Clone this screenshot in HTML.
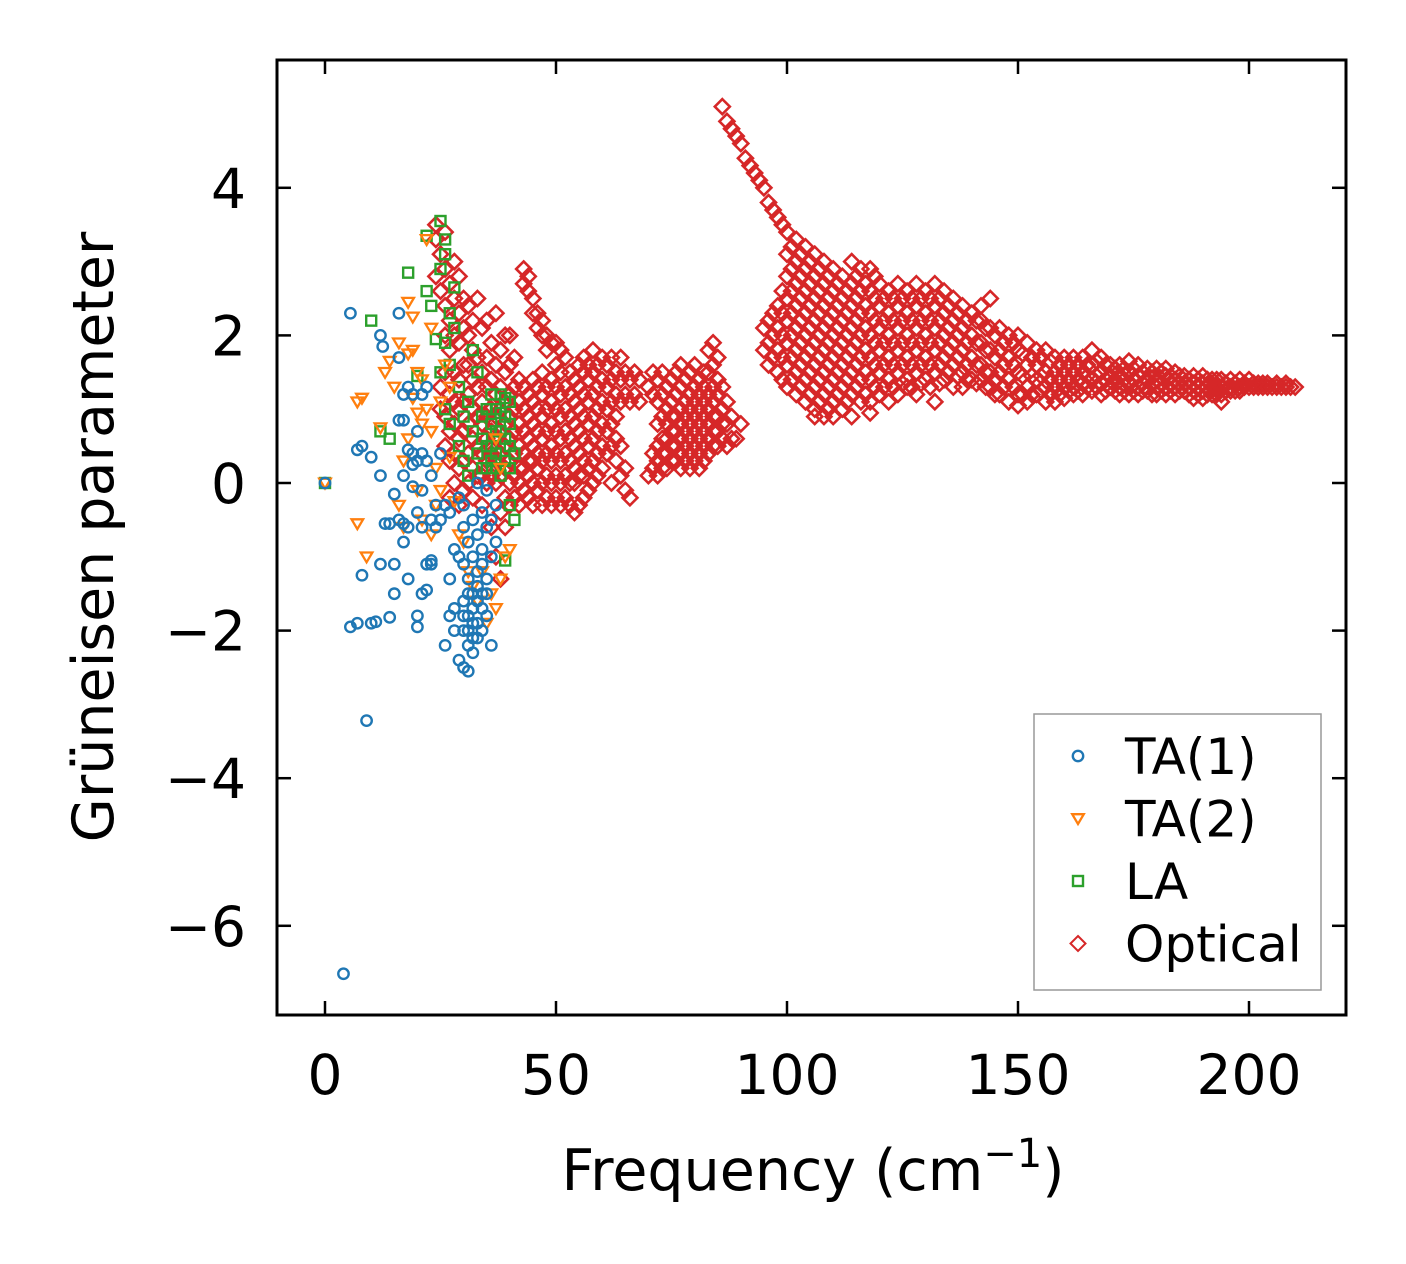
<!DOCTYPE html>
<html><head><meta charset="utf-8"><style>
html,body{margin:0;padding:0;background:#fff;}
svg{display:block;font-family:"DejaVu Sans","Liberation Sans",sans-serif;}
</style></head><body>
<svg id="chart" width="1406" height="1264" viewBox="0 0 1406 1264" xmlns="http://www.w3.org/2000/svg">
<rect width="1406" height="1264" fill="#fff"/>
<g id="marks"></g>
<g id="axes"></g>
</svg>
<script>
const xTicks = [0, 50, 100, 150, 200];
const yTicks = [4, 2, 0, -2, -4, -6];
const xTickLabels = ["0", "50", "100", "150", "200"];
const yTickLabels = ["4", "2", "0", "\u22122", "\u22124", "\u22126"];
const seriesNames = ["TA(1)", "TA(2)", "LA", "Optical"];

const ta1 = [[0,0],[4,-6.65],[5.5,2.3],[5.5,-1.95],[7,-1.9],[7,0.45],[8,0.5],[8,-1.25],[9,-3.22],[10,0.35],[10,-1.9],[11,-1.88],[12,2.0],[12,0.1],[12,-1.1],[12.5,1.85],[13,-0.55],[14,-0.55],[14,-1.82],[15,-0.15],[15,-1.5],[15,-1.1],[16,2.3],[16,1.7],[16,-0.5],[17,1.2],[17,0.85],[17,0.1],[17,-0.55],[17,-0.8],[18,1.3],[18,0.45],[18,-0.6],[18,-1.3],[19,1.2],[19,0.25],[19,-0.05],[20,0.7],[20,0.3],[20,-0.4],[20,-1.8],[20,-1.95],[21,1.2],[21,0.4],[21,-0.1],[21,-0.6],[21,-1.5],[22,1.3],[22,0.3],[22,-1.1],[22,-1.45],[23,0.1],[23,-0.5],[23,-1.05],[23,-1.1],[24,-0.3],[24,-0.6],[25,0.4],[25,-0.5],[26,-2.2],[26,-0.3],[27,-0.4],[27,-1.8],[27,-1.3],[28,-1.7],[28,-2.0],[28,-0.9],[29,-1.0],[29,-2.4],[29,-0.2],[30,-2.5],[30,-2.0],[30,-1.6],[30,-1.1],[30,-0.6],[30,-0.3],[31,-2.55],[31,-2.2],[31,-1.8],[31,-1.3],[31,-0.8],[32,-2.3],[32,-1.9],[32,-1.5],[32,-1.0],[32,-0.5],[33,-2.1],[33,-1.6],[33,-1.2],[33,-0.7],[33,0.0],[34,-2.0],[34,-1.5],[34,-0.9],[34,-0.4],[35,-1.8],[35,-1.3],[35,-0.6],[35,-0.1],[36,-2.2],[36,-1.0],[36,-0.5],[37,-0.8],[37,-0.3],[16,0.85],[19,0.4],[31,-2.0],[32,-1.7],[33,-1.4],[34,-1.1],[33,-1.9],[32,-2.1],[34,-1.7],[35,-1.5],[31,-1.5],[30,-1.8]];

const ta2 = [[0,0],[7,-0.55],[7,1.1],[8,1.15],[9,-1.0],[12,0.75],[13,1.5],[14,1.65],[15,1.3],[16,1.9],[16,-0.3],[17,0.3],[17,-0.6],[18,2.45],[18,1.75],[18,0.6],[19,2.25],[19,1.8],[19,1.15],[20,1.5],[20,0.95],[20,-0.1],[21,1.4],[21,0.8],[22,3.3],[22,1.0],[23,0.7],[23,-0.7],[24,0.2],[24,-0.3],[25,1.1],[25,-0.1],[26,1.6],[27,1.3],[27,0.35],[28,-0.25],[29,-0.7],[30,-0.8],[31,-1.2],[32,-1.4],[33,-1.6],[34,-1.2],[35,-1.9],[36,-1.5],[37,-1.7],[37,0.6],[38,-1.3],[38,0.2],[39,-1.0],[40,-0.9],[21,-0.5],[23,2.1]];

const la = [[0,0],[10,2.2],[12,0.7],[14,0.6],[18,2.85],[20,1.45],[22,3.35],[22,2.6],[23,2.4],[24,1.95],[25,3.55],[25,2.9],[25,1.5],[26,3.3],[26,3.1],[26,1.9],[26,1.0],[27,2.3],[27,1.6],[27,0.8],[28,2.65],[28,2.1],[29,1.3],[29,0.5],[30,0.9],[30,0.3],[31,1.1],[31,0.1],[32,1.8],[32,0.7],[33,0.4],[33,1.5],[34,0.9],[34,0.2],[35,0.5],[35,1.0],[36,0.8],[36,0.3],[36,1.2],[37,0.4],[37,1.0],[38,0.7],[38,1.2],[39,0.3],[39,0.9],[39,-1.05],[40,0.5],[40,1.1],[40,-0.3],[41,-0.5],[34,0.6],[37,0.7],[35,0.2],[38,0.1],[39,0.6],[40,0.8],[36,0.5],[37,0.2],[38,0.95],[39,1.15],[40,0.2],[41,0.4]];

/* optical: columns of [frequency, [gruneisen values]] */
const optical = [
[24,[2.8,3.3,3.5]],[25,[1.0,1.3,2.6,3.1]],[26,[0.5,0.9,1.5,2.0,2.4,2.9,3.4]],[27,[-0.2,0.3,0.7,1.2,1.8,2.2,2.7]],
[28,[0.0,0.4,0.8,1.1,1.5,2.0,2.5,3.0]],[29,[-0.3,0.2,0.6,1.0,1.4,1.9,2.3,2.8]],[30,[-0.1,0.3,0.7,1.1,1.6,2.1,2.5]],
[31,[0.0,0.4,0.8,1.2,1.6,2.0,2.4]],[32,[-0.2,0.2,0.6,1.0,1.4,1.8,2.2]],[33,[0.1,0.5,0.9,1.3,1.7,2.5]],
[34,[-0.3,0.1,0.4,0.8,1.1,1.5,2.1]],[35,[0.0,0.3,0.6,0.9,1.3,1.7,2.2]],[36,[-0.6,0.1,0.4,0.7,1.0,1.4,1.9]],
[37,[-1.0,0.0,0.3,0.6,0.9,1.2,1.6,2.3]],[38,[-1.3,-0.4,0.1,0.4,0.7,1.0,1.3,1.8]],[39,[-0.6,-0.2,0.2,0.5,0.8,1.1,1.5,2.0]],
[40,[-0.3,0.0,0.3,0.6,0.9,1.2,1.6,2.0]],[41,[-0.2,0.1,0.4,0.7,1.0,1.3,1.7]],[42,[-0.3,0.0,0.2,0.5,0.8,1.1,1.4]],
[43,[-0.1,0.2,0.4,0.7,1.0,1.3,2.9,2.7]],[44,[-0.2,0.1,0.3,0.6,0.9,1.2,2.8,2.6]],[45,[-0.3,0.0,0.3,0.5,0.8,1.1,1.4,2.5,2.3]],
[46,[-0.1,0.2,0.4,0.7,1.0,1.3,2.3,2.1]],[47,[-0.3,0.0,0.3,0.6,0.9,1.2,1.5,2.2,2.0]],[48,[-0.2,0.1,0.4,0.7,1.0,1.3,2.0,1.8]],
[49,[-0.3,0.0,0.3,0.5,0.8,1.1,1.4,1.9]],[50,[-0.2,0.1,0.4,0.7,1.0,1.3,1.6,1.9]],[51,[-0.3,0.0,0.3,0.6,0.9,1.2,1.5,1.8]],
[52,[-0.2,0.1,0.4,0.7,1.0,1.3,1.7]],[53,[-0.3,0.0,0.3,0.6,0.9,1.2,1.5]],[54,[-0.4,0.0,0.2,0.5,0.8,1.1,1.4]],
[55,[-0.3,0.1,0.4,0.7,1.0,1.3,1.6]],[56,[-0.2,0.1,0.3,0.6,0.9,1.2,1.5,1.7]],[57,[-0.1,0.2,0.5,0.8,1.1,1.4,1.6]],
[58,[0.0,0.3,0.6,0.9,1.2,1.5,1.8]],[59,[0.1,0.4,0.7,1.0,1.3,1.6]],[60,[0.2,0.5,0.8,1.1,1.4,1.7]],
[61,[0.4,0.7,1.0,1.3,1.6]],[62,[0.0,0.5,0.8,1.1,1.4,1.7]],[63,[0.3,0.6,0.9,1.2,1.5]],[64,[0.1,0.5,1.1,1.4,1.7]],
[65,[-0.1,0.2,1.2,1.5]],[66,[-0.2,1.1,1.4]],[67,[1.2,1.5]],[68,[1.1,1.4]],[70,[0.1,1.3]],[71,[0.2,0.4,1.2,1.5]],
[72,[0.1,0.3,0.5,0.8,1.1,1.4]],[73,[0.2,0.4,0.6,0.9,1.2,1.5]],[74,[0.2,0.4,0.6,0.8,1.0,1.3]],[75,[0.3,0.5,0.7,0.9,1.1,1.4]],
[76,[0.3,0.5,0.7,0.9,1.2,1.5]],[77,[0.2,0.4,0.6,0.8,1.0,1.3,1.6]],[78,[0.3,0.5,0.7,0.9,1.1,1.4]],[79,[0.2,0.4,0.6,0.8,1.0,1.2,1.5]],
[80,[0.3,0.5,0.7,0.9,1.1,1.3,1.6]],[81,[0.2,0.4,0.6,0.8,1.0,1.2,1.4]],[82,[0.3,0.5,0.7,0.9,1.1,1.3,1.5]],
[83,[0.4,0.6,0.8,1.0,1.2,1.5,1.8]],[84,[0.5,0.7,0.9,1.1,1.3,1.6,1.9]],[85,[0.5,0.7,0.9,1.2,1.4,1.7]],
[86,[0.6,0.8,1.0,1.3,5.1]],[87,[0.5,0.8,1.1,4.9]],[88,[0.6,0.9,4.8]],[89,[0.6,4.7]],[90,[0.8,4.6]],[91,[4.4]],[92,[4.3]],
[93,[4.2]],[94,[4.1]],[95,[4.0,2.1,1.8]],[96,[3.8,2.2,1.9,1.6]],[97,[3.7,2.3,2.0,1.7]],[98,[3.6,2.4,2.1,1.8,1.5]],
[99,[3.5,2.6,2.3,2.0,1.7,1.4]],[100,[3.4,3.1,2.8,2.5,2.2,1.9,1.6,1.3]],[101,[3.2,2.9,2.6,2.3,2.0,1.7,1.4]],
[102,[3.3,3.0,2.7,2.4,2.1,1.8,1.5,1.2]],[103,[3.1,2.8,2.5,2.2,1.9,1.6,1.3]],[104,[3.2,2.9,2.6,2.3,2.0,1.7,1.4,1.1]],
[105,[3.0,2.7,2.4,2.1,1.8,1.5,1.2]],[106,[3.1,2.8,2.5,2.2,1.9,1.6,1.3,1.0,0.9]],[107,[2.9,2.6,2.3,2.0,1.7,1.4,1.1]],
[108,[3.0,2.7,2.4,2.1,1.8,1.5,1.2,0.9]],[109,[2.8,2.5,2.2,1.9,1.6,1.3,1.0]],[110,[2.9,2.6,2.3,2.0,1.7,1.4,1.1,0.9]],
[111,[2.7,2.4,2.1,1.8,1.5,1.2]],[112,[2.8,2.5,2.2,1.9,1.6,1.3,1.0]],[113,[2.6,2.3,2.0,1.7,1.4,1.1]],
[114,[3.0,2.7,2.4,2.1,1.8,1.5,1.2,0.9]],[115,[2.8,2.5,2.2,1.9,1.6,1.3]],[116,[2.9,2.6,2.3,2.0,1.7,1.4,1.1]],
[117,[2.7,2.4,2.1,1.8,1.5,1.2]],[118,[2.9,2.6,2.3,2.0,1.7,1.4,1.1,0.95]],[119,[2.8,2.5,2.2,1.9,1.6,1.3]],
[120,[2.7,2.4,2.1,1.8,1.5,1.2]],[121,[2.5,2.2,1.9,1.6,1.3]],[122,[2.6,2.3,2.0,1.7,1.4,1.1]],[123,[2.5,2.2,1.9,1.6,1.3]],
[124,[2.7,2.4,2.1,1.8,1.5,1.2]],[125,[2.5,2.2,1.9,1.6,1.35]],[126,[2.6,2.3,2.0,1.7,1.4,1.3]],[127,[2.5,2.2,1.9,1.6,1.3]],
[128,[2.7,2.4,2.1,1.8,1.5,1.2]],[129,[2.5,2.2,1.9,1.6,1.35]],[130,[2.6,2.3,2.0,1.7,1.4]],[131,[2.5,2.2,1.9,1.6,1.3]],
[132,[2.7,2.4,2.1,1.8,1.5,1.1]],[133,[2.5,2.2,1.9,1.6,1.35]],[134,[2.6,2.3,2.0,1.7,1.4]],[135,[2.4,2.1,1.8,1.5]],
[136,[2.5,2.2,1.9,1.6,1.3]],[137,[2.3,2.0,1.7,1.45]],[138,[2.4,2.1,1.8,1.5,1.3]],[139,[2.2,1.9,1.6,1.4]],
[140,[2.3,2.0,1.7,1.4]],[141,[2.2,1.9,1.6,1.35]],[142,[2.4,2.2,1.9,1.6,1.4]],[143,[2.1,1.8,1.5,1.3]],
[144,[2.5,2.1,1.8,1.5,1.3]],[145,[2.0,1.7,1.4,1.2]],[146,[2.1,1.8,1.5,1.2]],[147,[1.9,1.6,1.3]],[148,[2.0,1.7,1.4,1.1]],
[149,[1.9,1.6,1.3]],[150,[2.0,1.8,1.5,1.2,1.05]],[151,[1.75,1.45,1.2]],[152,[1.9,1.6,1.3,1.1]],[153,[1.7,1.45,1.2]],
[154,[1.8,1.6,1.4,1.2]],[155,[1.7,1.45,1.25]],[156,[1.8,1.5,1.3,1.1]],[157,[1.65,1.4,1.2]],[158,[1.7,1.5,1.3,1.1]],
[159,[1.6,1.4,1.2]],[160,[1.7,1.5,1.3,1.15]],[161,[1.6,1.4,1.25]],[162,[1.7,1.5,1.3,1.2]],[163,[1.6,1.4,1.25]],
[164,[1.7,1.5,1.35,1.2]],[165,[1.6,1.45,1.3]],[166,[1.8,1.6,1.4,1.25]],[167,[1.65,1.45,1.3]],[168,[1.7,1.5,1.35,1.2]],
[169,[1.6,1.4,1.25]],[170,[1.6,1.45,1.3]],[171,[1.55,1.4,1.25]],[172,[1.6,1.45,1.3,1.2]],[173,[1.55,1.4,1.25]],
[174,[1.65,1.5,1.35,1.2]],[175,[1.55,1.4,1.25]],[176,[1.6,1.45,1.3,1.2]],[177,[1.5,1.35,1.25]],[178,[1.55,1.4,1.25]],
[179,[1.5,1.35,1.2]],[180,[1.55,1.4,1.3,1.2]],[181,[1.5,1.35,1.25]],[182,[1.55,1.45,1.3,1.2]],[183,[1.45,1.35,1.25]],
[184,[1.5,1.4,1.3,1.2]],[185,[1.45,1.35,1.25]],[186,[1.45,1.35,1.25]],[187,[1.4,1.3,1.2]],[188,[1.45,1.35,1.25,1.15]],
[189,[1.4,1.3,1.2]],[190,[1.45,1.35,1.25,1.15]],[191,[1.4,1.3,1.2]],[192,[1.4,1.3,1.2]],[193,[1.4,1.3,1.2]],
[194,[1.4,1.3,1.2,1.1]],[195,[1.35,1.25]],[196,[1.4,1.3,1.25]],[197,[1.35,1.25]],[198,[1.4,1.3,1.25]],[199,[1.35,1.3]],
[200,[1.4,1.3]],[201,[1.35,1.3]],[202,[1.35,1.3]],[203,[1.35,1.3]],[204,[1.35,1.3]],[205,[1.3]],[206,[1.35,1.3]],
[207,[1.3]],[208,[1.3,1.35]],[209,[1.3]],[210,[1.3]]
];

const NS = "http://www.w3.org/2000/svg";
const plot = {left: 277, right: 1346, top: 60, bottom: 1015};
const xPx = v => 325 + v * 4.62;
const yPx = v => 483 - v * 73.8;
const marks = document.getElementById('marks');
const axes = document.getElementById('axes');

function mk(tag, attrs, parent) {
  const e = document.createElementNS(NS, tag);
  for (const k in attrs) e.setAttribute(k, attrs[k]);
  parent.appendChild(e);
  return e;
}
function marker(kind, cx, cy, parent, color) {
  let e;
  if (kind === 'circle') e = mk('circle', {cx: cx, cy: cy, r: 5.2, fill: 'none', stroke: color, 'stroke-width': 2.4}, parent);
  else if (kind === 'square') e = mk('rect', {x: cx - 5, y: cy - 5, width: 10, height: 10, fill: 'none', stroke: color, 'stroke-width': 2.4}, parent);
  else if (kind === 'tri') e = mk('polygon', {points: `${cx-5.8},${cy-4.3} ${cx+5.8},${cy-4.3} ${cx},${cy+5.5}`, fill: 'none', stroke: color, 'stroke-width': 2.3}, parent);
  else e = mk('polygon', {points: `${cx},${cy-7.5} ${cx+7.5},${cy} ${cx},${cy+7.5} ${cx-7.5},${cy}`, fill: 'none', stroke: color, 'stroke-width': 2.6}, parent);
  return e;
}

const gOpt = mk('g', {}, marks);


optical.forEach(col => {
  col[1].forEach(v => {
    const e = marker('diamond', xPx(col[0]), yPx(v), gOpt, '#d62728');
    
    
  });
});
const gLA = mk('g', {}, marks);


la.forEach(p => {
  const e = marker('square', xPx(p[0]), yPx(p[1]), gLA, '#2ca02c');
  
  
});
const gTA2 = mk('g', {}, marks);


ta2.forEach(p => {
  const e = marker('tri', xPx(p[0]), yPx(p[1]), gTA2, '#ff7f0e');
  
  
});
const gTA1 = mk('g', {}, marks);


ta1.forEach(p => {
  const e = marker('circle', xPx(p[0]), yPx(p[1]), gTA1, '#1f77b4');
  
  
});

const frame = mk('rect', {x: plot.left, y: plot.top, width: plot.right - plot.left, height: plot.bottom - plot.top, fill: 'none', stroke: '#000', 'stroke-width': 3}, axes);



xTicks.forEach((t, i) => {
  const x = xPx(t);
  mk('line', {x1: x, x2: x, y1: plot.bottom, y2: plot.bottom - 14, stroke: '#000', 'stroke-width': 2.5}, axes);
  mk('line', {x1: x, x2: x, y1: plot.top, y2: plot.top + 14, stroke: '#000', 'stroke-width': 2.5}, axes);
  const tx = mk('text', {x: x, y: 1094, 'font-size': 55, 'text-anchor': 'middle', fill: '#000'}, axes);
  tx.textContent = xTickLabels[i];
  
  
});
yTicks.forEach((t, i) => {
  const y = yPx(t);
  mk('line', {x1: plot.left, x2: plot.left + 14, y1: y, y2: y, stroke: '#000', 'stroke-width': 2.5}, axes);
  mk('line', {x1: plot.right, x2: plot.right - 14, y1: y, y2: y, stroke: '#000', 'stroke-width': 2.5}, axes);
  const tx = mk('text', {x: 246, y: y + 20, 'font-size': 55, 'text-anchor': 'end', fill: '#000'}, axes);
  tx.textContent = yTickLabels[i];
  
  
});

const xl = mk('text', {x: 813, y: 1190, 'font-size': 57, 'text-anchor': 'middle', fill: '#000'}, axes);
xl.innerHTML = 'Frequency (cm<tspan dy="-23" font-size="40">\u22121</tspan><tspan dy="23">)</tspan>';


const yl = mk('text', {x: 0, y: 0, 'font-size': 57, 'text-anchor': 'middle', fill: '#000', transform: 'translate(113,537) rotate(-90)'}, axes);
yl.textContent = 'Grüneisen parameter';



const lg = mk('g', {}, axes);


mk('rect', {x: 1034, y: 714, width: 287, height: 276, fill: '#fff', 'fill-opacity': 0.8, stroke: '#999', 'stroke-width': 1.5}, lg);
const kinds = ['circle', 'tri', 'square', 'diamond'];
const colors = ['#1f77b4', '#ff7f0e', '#2ca02c', '#d62728'];
seriesNames.forEach((n, i) => {
  const cy = 756 + i * 62.5;
  const entry = mk('g', {}, lg);
  
  
  const m = marker(kinds[i], 1078, cy, entry, colors[i]);
  if (kinds[i] === 'diamond') m.setAttribute('stroke-width', 2);
  const t = mk('text', {x: 1125, y: cy + 18, 'font-size': 50, fill: '#000'}, entry);
  t.textContent = n;
});
</script>
</body></html>
